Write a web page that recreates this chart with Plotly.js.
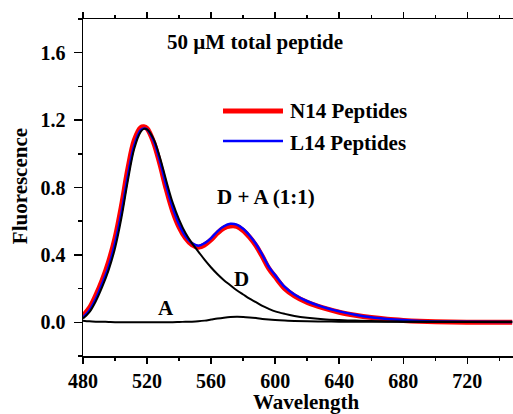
<!DOCTYPE html>
<html>
<head>
<meta charset="utf-8">
<script src="https://cdn.plot.ly/plotly-3.0.1.min.js"></script>
<style>html,body{margin:0;padding:0;background:#fff;}#chart{width:513px;height:414px;}</style>
</head>
<body>
<div id="chart"></div>
<script>
// Wavelength (nm)
var wavelength = [480,484,488,492,496,500,504,508,512,516,518,520,524,528,532,536,540,544,548,552,556,560,564,568,572,576,580,584,588,592,596,600,606,612,620,630,640,650,660,670,680,690,700,720,748];
// D + A (1:1), N14 peptides (red)
var n14 = [0.040,0.085,0.160,0.250,0.360,0.500,0.690,0.910,1.080,1.155,1.160,1.150,1.070,0.940,0.790,0.660,0.565,0.500,0.460,0.445,0.460,0.490,0.530,0.560,0.572,0.570,0.545,0.505,0.455,0.390,0.320,0.270,0.200,0.157,0.118,0.085,0.060,0.042,0.028,0.018,0.011,0.006,0.003,0.001,0.000];
// D + A (1:1), L14 peptides (blue)
var l14 = [0.028,0.070,0.140,0.230,0.330,0.470,0.650,0.870,1.050,1.140,1.150,1.145,1.080,0.960,0.810,0.680,0.580,0.510,0.470,0.455,0.470,0.500,0.540,0.570,0.585,0.580,0.555,0.515,0.465,0.400,0.330,0.280,0.210,0.165,0.125,0.090,0.065,0.045,0.030,0.020,0.013,0.008,0.005,0.003,0.002];
// Donor only (D)
var donor = [0.022,0.060,0.125,0.210,0.310,0.440,0.620,0.840,1.030,1.130,1.148,1.145,1.090,0.980,0.840,0.710,0.610,0.530,0.470,0.420,0.370,0.325,0.285,0.250,0.220,0.190,0.165,0.140,0.120,0.097,0.080,0.065,0.050,0.038,0.027,0.018,0.013,0.010,0.007,0.005,0.004,0.003,0.003,0.002,0.002];
// Acceptor only (A)
var acceptor = [0.010,0.006,0.004,0.003,0.002,0.001,0.001,0.001,0.001,0.001,0.001,0.001,0.001,0.001,0.001,0.001,0.002,0.003,0.004,0.006,0.010,0.016,0.022,0.027,0.031,0.033,0.032,0.029,0.025,0.020,0.016,0.013,0.010,0.008,0.006,0.005,0.004,0.003,0.003,0.003,0.003,0.003,0.003,0.003,0.003];

var xTicks = [480,520,560,600,640,680,720];
var yTicks = [0.0,0.4,0.8,1.2,1.6];
var yTickText = ['0.0','0.4','0.8','1.2','1.6'];

var FONT = 'Liberation Serif, Times New Roman, serif';

function tr(y, color, width) {
  return {x: wavelength, y: y, type: 'scatter', mode: 'lines',
    line: {color: color, width: width, shape: 'spline', smoothing: 1},
    showlegend: false, hoverinfo: 'skip'};
}

var data = [tr(n14, '#ff0000', 5), tr(l14, '#0000ff', 2.5), tr(donor, '#000000', 2), tr(acceptor, '#000000', 2)];

function ann(text, x, y, xanchor, extra) {
  var a = {text: text, xref: 'paper', yref: 'paper', x: x, y: y, xanchor: xanchor, yanchor: 'middle',
    showarrow: false, font: {family: FONT, size: 21, color: '#000', weight: 'bold'}};
  if (extra) for (var k in extra) a[k] = extra[k];
  return a;
}

var layout = {
  width: 513, height: 414,
  margin: {l: 83, r: 0, t: 19, b: 58.3, pad: 0},
  paper_bgcolor: '#fff', plot_bgcolor: '#fff',
  showlegend: false,
  xaxis: {
    range: [480, 748.5], tickvals: xTicks, ticktext: xTicks.map(String),
    ticks: 'outside', ticklen: 6, tickwidth: 1.5, tickcolor: '#000',
    minor: {dtick: 20, tick0: 480, ticks: 'outside', ticklen: 3, tickwidth: 1.5, tickcolor: '#000'},
    showline: true, linecolor: '#000', linewidth: 1.5, mirror: 'ticks',
    showgrid: false, zeroline: false,
    tickfont: {family: FONT, size: 20, color: '#000', weight: 'bold'}
  },
  yaxis: {
    range: [-0.2, 1.8], tickvals: yTicks, ticktext: yTickText,
    ticks: 'outside', ticklen: 8, tickwidth: 1.5, tickcolor: '#000',
    minor: {dtick: 0.2, tick0: -0.2, ticks: 'outside', ticklen: 4, tickwidth: 1.5, tickcolor: '#000'},
    showline: true, linecolor: '#000', linewidth: 1.5,
    showgrid: false, zeroline: false, ticklabelstandoff: 4,
    tickfont: {family: FONT, size: 20, color: '#000', weight: 'bold'}
  },
  shapes: [
    {type: 'line', xref: 'paper', yref: 'paper', x0: 0.3256, x1: 0.4651, y0: 0.7268, y1: 0.7268, line: {color: '#ff0000', width: 5}},
    {type: 'line', xref: 'paper', yref: 'paper', x0: 0.3256, x1: 0.4651, y0: 0.6377, y1: 0.6377, line: {color: '#0000ff', width: 2.5}}
  ],
  annotations: [
    ann('50 \u00B5M total peptide', 0.1907, 0.9316, 'left'),
    ann('N14 Peptides', 0.4767, 0.7268, 'left'),
    ann('L14 Peptides', 0.4767, 0.6317, 'left'),
    ann('D + A (1:1)', 0.307, 0.4713, 'left'),
    ann('D', 0.369, 0.2278, 'center'),
    ann('A', 0.1923, 0.1416, 'center'),
    ann('Wavelength', 0.5186, -0.1375, 'center'),
    ann('Fluorescence', -0.1465, 0.504, 'center', {textangle: -90})
  ]
};

Plotly.newPlot('chart', data, layout, {staticPlot: true, displayModeBar: false});
</script>
</body>
</html>
